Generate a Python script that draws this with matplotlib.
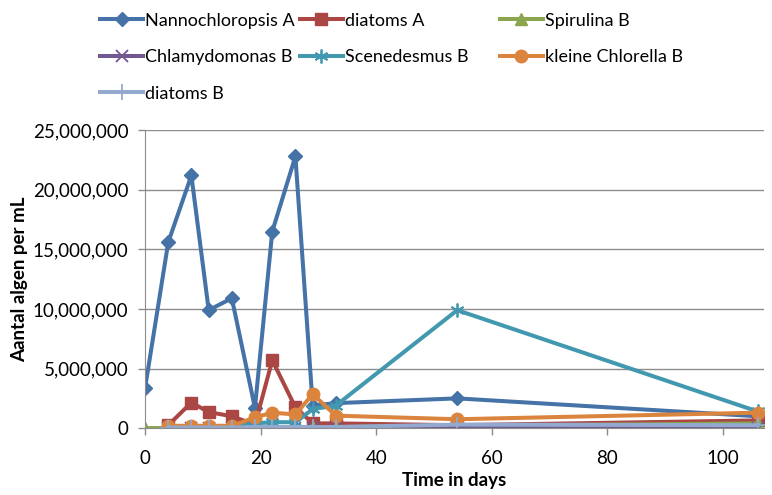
import matplotlib
matplotlib.use("Agg")
import matplotlib.pyplot as plt
from matplotlib.ticker import FuncFormatter, MultipleLocator

plt.rcParams['font.family'] = ['Lato', 'DejaVu Sans']

# sampling days per series
days_a = [0, 4, 8, 11, 15, 19, 22, 26, 29, 33, 54, 106]
days_b = [4, 8, 11, 15, 19, 22, 26, 29, 33, 54, 106]

nanno_a = [3400000, 15600000, 21200000, 9900000, 10900000, 1700000,
           16500000, 22800000, 1900000, 2100000, 2500000, 1000000]
diatoms_a = [250000, 2150000, 1350000, 1000000, 300000, 5700000,
             1750000, 400000, 400000, 250000, 650000]
spirulina_b = [0, 20000, 20000, 20000, 20000, 20000, 30000, 60000,
               80000, 100000, 200000, 400000]
chlamy_b = [10000, 10000, 10000, 10000, 10000, 10000, 20000, 20000,
            20000, 20000, 50000]
scenedesmus_b = [50000, 50000, 50000, 100000, 400000, 500000, 500000,
                 1600000, 1900000, 9900000, 1400000]
chlorella_b = [200000, 200000, 200000, 200000, 900000, 1300000, 1150000,
               2850000, 1050000, 750000, 1300000]
diatoms_b = [50000, 50000, 50000, 50000, 100000, 100000, 100000, 100000,
             100000, 300000, 250000]

series = [
    ("Nannochloropsis A", days_a, nanno_a, "#4572A7", "D", 7.5),
    ("diatoms A", days_b, diatoms_a, "#AA4643", "s", 8),
    ("Spirulina B", days_a, spirulina_b, "#89A54E", "^", 8.5),
    ("Chlamydomonas B", days_b, chlamy_b, "#71588F", "x", 9),
    ("Scenedesmus B", days_b, scenedesmus_b, "#4198AF", (6, 2, 0), 10),
    ("kleine Chlorella B", days_b, chlorella_b, "#DB843D", "o", 9),
    ("diatoms B", days_b, diatoms_b, "#93A9CF", "+", 11),
]

fig = plt.figure(figsize=(7.72, 4.95), dpi=100)
ax = fig.add_axes([0.188, 0.135, 0.801, 0.602])

lines = []
for name, x, y, color, marker, ms in series:
    if marker in ("x", "+") or isinstance(marker, tuple):
        ln, = ax.plot(x, y, color=color, lw=2.9, marker=marker, markersize=ms,
                      markeredgewidth=1.3, label=name)
    else:
        ln, = ax.plot(x, y, color=color, lw=2.9, marker=marker, markersize=ms,
                      markeredgecolor=color, label=name)
    lines.append(ln)

ax.set_xlim(0, 107)
ax.set_ylim(0, 25000000)
ax.xaxis.set_major_locator(MultipleLocator(20))
ax.yaxis.set_major_locator(MultipleLocator(5000000))
ax.yaxis.set_major_formatter(FuncFormatter(lambda v, p: f"{int(v):,}"))
ax.grid(axis="y", color="#8c8c8c", lw=1)
ax.set_axisbelow(True)
for s in ("top", "right"):
    ax.spines[s].set_visible(False)
for s in ("left", "bottom"):
    ax.spines[s].set_color("#8c8c8c")
ax.tick_params(colors="#8c8c8c", labelcolor="black", labelsize=13.5,
               length=5, width=1)
ax.tick_params(axis="x", pad=11)
ax.tick_params(axis="y", pad=7)
ax.set_xlabel("Time in days", fontsize=13.5, fontweight="bold", labelpad=3)
ax.set_ylabel("Aantal algen per mL", fontsize=13.5, fontweight="bold", labelpad=3)

# legend laid out row-wise in three equal columns
col_x = [0.113, 0.372, 0.631]
for c in range(3):
    hs = lines[c::3]
    fig.legend(handles=hs, labels=[h.get_label() for h in hs],
               loc="upper left", bbox_to_anchor=(col_x[c], 1.0),
               frameon=False, fontsize=13, handlelength=2.4,
               handletextpad=0.1, labelspacing=1.14, numpoints=1,
               borderaxespad=0.3)

fig.savefig("out.png", dpi=100)
